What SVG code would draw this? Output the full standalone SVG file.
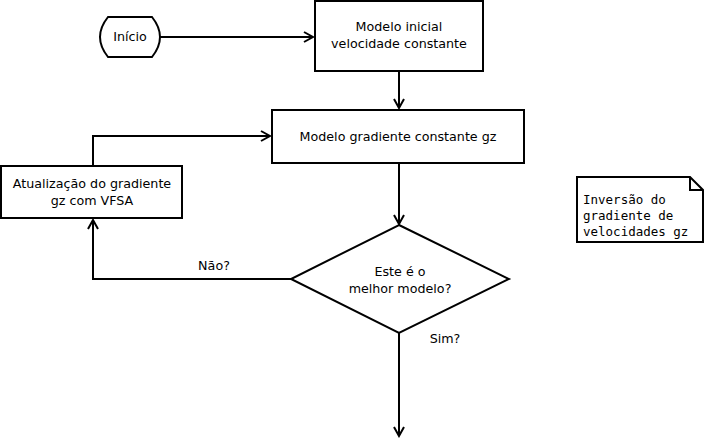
<svg xmlns="http://www.w3.org/2000/svg" width="705" height="440" viewBox="0 0 705 440">
<defs>
<marker id="arr" markerWidth="12" markerHeight="12" refX="10" refY="6" orient="auto" markerUnits="userSpaceOnUse">
<path d="M1,1 L10,6 L1,11" fill="none" stroke="#000" stroke-width="2"/>
</marker>
<style>
.s{fill:#fff;stroke:#000;stroke-width:2}
.t{font-family:"DejaVu Sans",sans-serif;font-size:12.7px;fill:#000;text-anchor:middle}
.m{font-family:"DejaVu Sans Mono",monospace;font-size:12.5px;fill:#000}
.c{fill:none;stroke:#000;stroke-width:2}
</style>
</defs>
<rect width="705" height="440" fill="#fff"/>
<g id="connectors">
<path class="c" d="M160,37 L313,37" marker-end="url(#arr)"/>
<path class="c" d="M399,70 L399,108" marker-end="url(#arr)"/>
<path class="c" d="M93,166 L93,136 L270,136" marker-end="url(#arr)"/>
<path class="c" d="M399,163 L399,224" marker-end="url(#arr)"/>
<path class="c" d="M291,279 L93,279 L93,220" marker-end="url(#arr)"/>
<path class="c" d="M399,333 L399,436" marker-end="url(#arr)"/>
<text class="t" x="214" y="270">Não?</text>
<text class="t" x="445" y="343">Sim?</text>
</g>
<g id="inicio">
<path class="s" d="M108,17 L152,17 Q160,27 160,37 Q160,47 152,57 L108,57 Q100,47 100,37 Q100,27 108,17 Z"/>
<text class="t" x="130" y="41">Início</text>
</g>
<g id="modelo-inicial">
<rect class="s" x="315" y="1" width="168" height="70"/>
<text class="t" x="399" y="31">Modelo inicial</text>
<text class="t" x="399" y="48">velocidade constante</text>
</g>
<g id="modelo-gradiente">
<rect class="s" x="272" y="110" width="252" height="53"/>
<text class="t" x="398" y="141">Modelo gradiente constante gz</text>
</g>
<g id="atualizacao">
<rect class="s" x="1" y="166" width="181" height="52"/>
<text class="t" x="92" y="188">Atualização do gradiente</text>
<text class="t" x="92" y="205">gz com VFSA</text>
</g>
<g id="decisao">
<polygon class="s" points="399,225 509,279 399,333 291,279"/>
<text class="t" x="400" y="276">Este é o</text>
<text class="t" x="400" y="293">melhor modelo?</text>
</g>
<g id="nota">
<path class="s" d="M577,177 L690,177 L703,190 L703,242 L577,242 Z"/>
<path class="c" d="M690,177 L690,190 L703,190" stroke-width="1"/>
<text class="m" x="583" y="204">Inversão do</text>
<text class="m" x="583" y="220">gradiente de</text>
<text class="m" x="583" y="236">velocidades gz</text>
</g>
</svg>
